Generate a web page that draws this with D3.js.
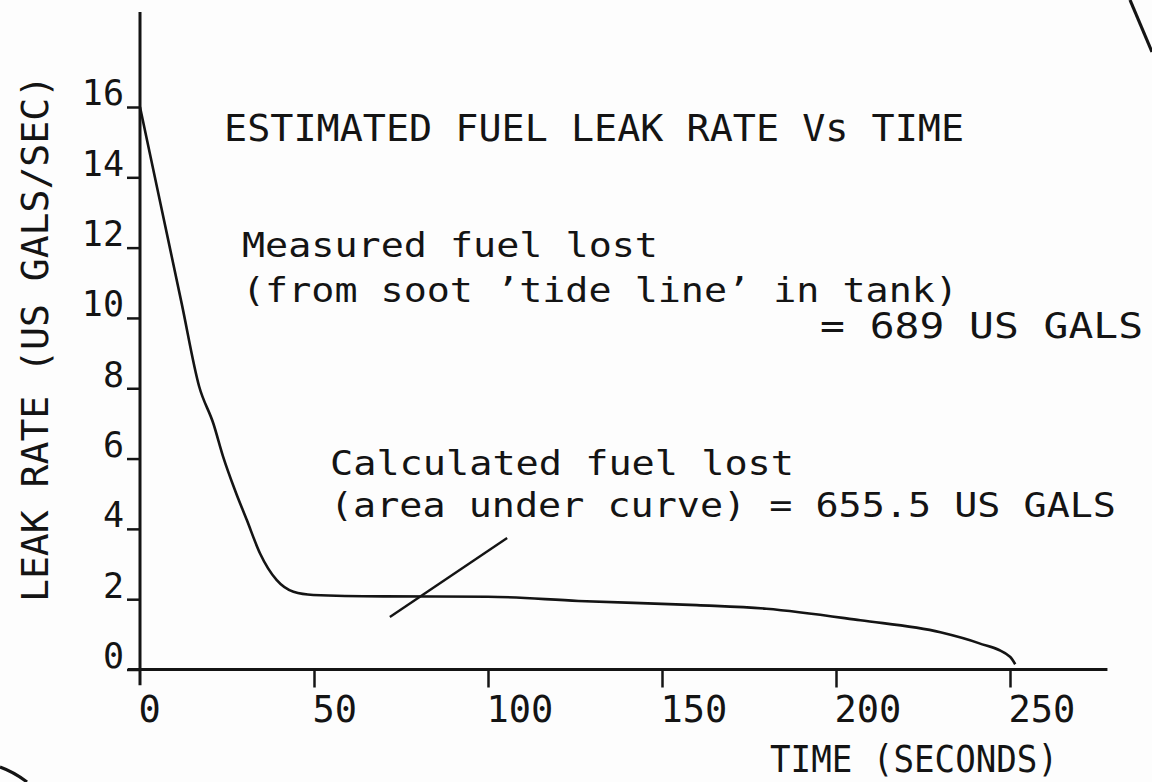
<!DOCTYPE html>
<html>
<head>
<meta charset="utf-8">
<script src="https://cdn.jsdelivr.net/npm/d3@7/dist/d3.min.js"></script>
<style>
  html, body { margin: 0; padding: 0; background: #fdfdfd; }
  svg { display: block; }
  text { font-family: "DejaVu Sans Mono", "Liberation Mono", monospace; fill: #141414; }
</style>
</head>
<body>
<svg id="chart" width="1152" height="782"></svg>
<script>
// Leak-rate curve read at these times (seconds) and rates (US gal/s)
const times = [0, 6, 12, 17.0, 21.1, 23.9, 27.3, 30.7, 34.5, 39.3, 44.1, 49.8, 70, 100, 126, 160, 180, 207, 230, 241, 250, 251.5];
const rates = [16.0, 13.2, 10.4, 8.05, 6.99, 6.05, 5.1, 4.25, 3.3, 2.54, 2.21, 2.12, 2.08, 2.07, 1.95, 1.83, 1.73, 1.40, 1.06, 0.75, 0.36, 0.15];

const xTicks = [0, 50, 100, 150, 200, 250];
const yTicks = [0, 2, 4, 6, 8, 10, 12, 14, 16];

const titleText = "ESTIMATED FUEL LEAK RATE Vs TIME";
const measuredLines = ["Measured fuel lost", "(from soot \u2019tide line\u2019 in tank)", "= 689 US GALS"];
const calculatedLines = ["Calculated fuel lost", "(area under curve) = 655.5 US GALS"];
const xLabel = "TIME (SECONDS)";
const yLabel = "LEAK RATE (US GALS/SEC)";

// pointer from the "calculated" note down to the curve: [time, rate]
const pointerEnds = [[71.8, 1.49], [105.5, 3.74]];

const svg = d3.select("#chart");
const ink = "#141414";

const x = d3.scaleLinear().domain([0, 250]).range([140, 1010]);
const y = d3.scaleLinear().domain([0, 16]).range([669.5, 107]);

// axis lines (extending a little past the origin, plotter style)
svg.append("line")
  .attr("x1", x(-3.5)).attr("x2", x(278))
  .attr("y1", y(0)).attr("y2", y(0))
  .attr("stroke", ink).attr("stroke-width", 3);
svg.append("line")
  .attr("x1", x(0)).attr("x2", x(0))
  .attr("y1", y(-0.45)).attr("y2", y(18.7))
  .attr("stroke", ink).attr("stroke-width", 3);

// y axis ticks and labels
const yAxis = d3.axisLeft(y).tickValues(yTicks).tickSize(13).tickFormat(d3.format("d"));
const gy = svg.append("g").attr("transform", `translate(${x(0)},0)`).call(yAxis);
gy.select(".domain").remove();
gy.selectAll(".tick line").attr("stroke", ink).attr("stroke-width", 2.5);
gy.selectAll(".tick text")
  .attr("x", -16).attr("dy", "-0.06em").attr("y", 0)
  .attr("text-anchor", "end")
  .style("font-size", "35px").style("font-family", "'DejaVu Sans Mono', monospace").attr("fill", ink);

// x axis ticks and labels
const xAxis = d3.axisBottom(x).tickValues(xTicks).tickSize(18).tickFormat(d3.format("d"));
const gx = svg.append("g").attr("transform", `translate(0,${y(0)})`).call(xAxis);
gx.select(".domain").remove();
gx.selectAll(".tick line").attr("stroke", ink).attr("stroke-width", 2.5)
  .filter(d => d === 0).remove();
gx.selectAll(".tick text")
  .attr("x", -2).attr("y", 52).attr("dy", 0)
  .attr("text-anchor", "start")
  .style("font-size", "37px").style("font-family", "'DejaVu Sans Mono', monospace").attr("fill", ink);

// leak-rate curve
const line = d3.line()
  .x((d, i) => x(times[i]))
  .y((d, i) => y(rates[i]))
  .curve(d3.curveMonotoneX);
svg.append("path")
  .datum(times)
  .attr("d", line)
  .attr("fill", "none")
  .attr("stroke", ink)
  .attr("stroke-width", 2.6)
  .attr("stroke-linejoin", "round");

// pointer line
svg.append("line")
  .attr("x1", x(pointerEnds[0][0])).attr("y1", y(pointerEnds[0][1]))
  .attr("x2", x(pointerEnds[1][0])).attr("y2", y(pointerEnds[1][1]))
  .attr("stroke", ink).attr("stroke-width", 2.4);

// text helper: fixed left edge, baseline and run length
function label(str, x0, base, len, size) {
  return svg.append("text")
    .attr("x", x0).attr("y", base)
    .attr("textLength", len).attr("lengthAdjust", "spacingAndGlyphs")
    .style("font-size", size + "px")
    .text(str);
}

label(titleText, 224, 141, 740, 38);
label(measuredLines[0], 242, 257, 416, 34);
label(measuredLines[1], 242, 302, 716, 34);
label(measuredLines[2], 820, 338, 323, 36);
label(calculatedLines[0], 330, 475, 464, 34);
label(calculatedLines[1], 330, 517, 786, 34);
label(xLabel, 770, 772, 288, 37);

svg.append("text")
  .attr("transform", "translate(48,602) rotate(-90)")
  .attr("x", 0).attr("y", 0)
  .attr("textLength", 527).attr("lengthAdjust", "spacingAndGlyphs")
  .style("font-size", "38px")
  .text(yLabel);

// edge of the sheet visible at two corners
svg.append("path")
  .attr("d", "M1130,0 Q1141,26 1152,52")
  .attr("fill", "none").attr("stroke", ink).attr("stroke-width", 3.2);
svg.append("path")
  .attr("d", "M0,767 Q14,772 27,782")
  .attr("fill", "none").attr("stroke", ink).attr("stroke-width", 3.2);
</script>
</body>
</html>
